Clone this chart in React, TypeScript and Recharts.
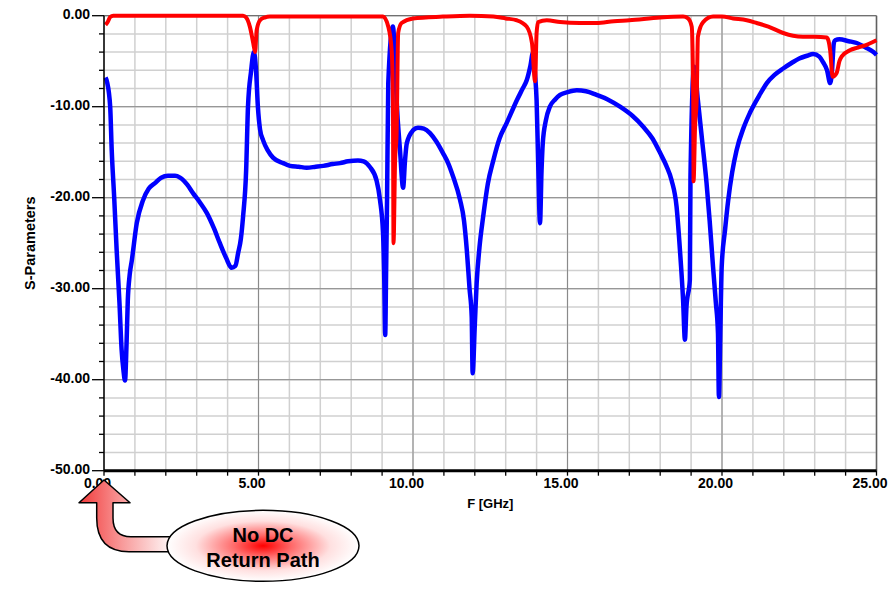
import React from "react";
import {
  LineChart,
  Line,
  XAxis,
  YAxis,
  CartesianGrid,
  ReferenceLine,
} from "recharts";

// S11 (blue)
const s11Freq = [
  0.05, 0.1, 0.2, 0.25, 0.33, 0.41, 0.5, 0.57, 0.63, 0.68, 0.73, 0.77, 0.83,
  0.9, 1.06, 1.26, 1.45, 1.65, 1.85, 2.07, 2.3, 2.46, 2.7, 2.88, 3.1, 3.33,
  3.55, 3.75, 3.95, 4.13, 4.25, 4.34, 4.43, 4.5, 4.6, 4.66, 4.76, 4.85, 4.92,
  4.98, 5.05, 5.15, 5.3, 5.47, 5.8, 6.02, 6.3, 6.56, 6.85, 7.1, 7.4, 7.64,
  7.9, 8.22, 8.4, 8.6, 8.82, 8.93, 9.03, 9.07, 9.1, 9.13, 9.16, 9.2, 9.35,
  9.42, 9.47, 9.58, 9.68, 9.74, 9.8, 10.0, 10.16, 10.35, 10.55, 10.75, 10.97,
  11.15, 11.3, 11.52, 11.65, 11.74, 11.83, 11.9, 11.93, 12.0, 12.06, 12.15,
  12.27, 12.42, 12.6, 12.8, 13.03, 13.2, 13.36, 13.55, 13.68, 13.8, 13.88,
  13.95, 14.0, 14.05, 14.11, 14.16, 14.2, 14.3, 14.43, 14.6, 14.76, 15.0,
  15.3, 15.6, 15.94, 16.3, 16.7, 17.1, 17.45, 17.75, 18.0, 18.2, 18.37,
  18.53, 18.64, 18.74, 18.8, 18.85, 18.96, 18.98, 19.1, 19.22, 19.35, 19.5,
  19.6, 19.71, 19.8, 19.87, 19.9, 19.95, 19.99, 20.1, 20.2, 20.33, 20.47,
  20.7, 20.9, 21.2, 21.45, 21.7, 21.98, 22.25, 22.5, 22.75, 22.95, 23.15,
  23.27, 23.4, 23.5, 23.55, 23.62, 23.66, 23.8, 24.1, 24.36, 24.65, 24.9, 25.0,
];
const s11Db = [
  -6.8, -7.3, -10.0, -14.8, -20.0, -25.8, -31.5, -36.7, -39.0, -40.1, -36.0,
  -31.3, -28.5, -26.9, -22.8, -20.3, -19.0, -18.4, -17.8, -17.6, -17.6, -17.8,
  -18.6, -19.5, -20.5, -21.7, -23.3, -25.0, -26.6, -27.7, -27.5, -26.1, -24.5,
  -22.1, -17.0, -10.0, -6.1, -4.0, -6.0, -10.0, -12.5, -13.7, -14.8, -15.6,
  -16.2, -16.5, -16.6, -16.7, -16.6, -16.5, -16.3, -16.2, -16.0, -15.9, -16.0,
  -16.6, -18.1, -20.2, -23.9, -29.0, -35.1, -28.0, -20.3, -7.4, -1.2, -5.0,
  -9.3, -14.8, -18.9, -16.0, -14.0, -12.6, -12.3, -12.4, -12.9, -13.8, -15.1,
  -16.3, -17.7, -20.2, -22.5, -25.7, -30.0, -33.1, -39.3, -34.0, -29.4, -25.5,
  -22.1, -18.5, -15.9, -13.5, -11.8, -10.5, -9.3, -8.0, -7.1, -5.5, -4.1,
  -6.5, -9.3, -16.0, -22.8, -17.0, -14.0, -11.5, -10.0, -9.2, -8.7, -8.4,
  -8.2, -8.3, -8.7, -9.2, -10.0, -11.0, -12.2, -13.5, -15.1, -16.5, -18.1,
  -21.0, -25.8, -31.2, -35.6, -32.0, -29.0, -17.7, -5.6, -9.3, -13.5, -18.4,
  -22.5, -27.6, -31.5, -34.9, -41.9, -34.0, -27.6, -23.5, -20.3, -17.2, -14.8,
  -12.3, -10.7, -8.8, -7.4, -6.5, -5.8, -5.2, -4.7, -4.4, -4.2, -4.5, -5.1,
  -6.0, -7.4, -6.5, -3.0, -2.7, -2.6, -2.8, -3.0, -3.5, -4.0, -4.3,
];

// S21 (red)
const s21Freq = [
  0.05, 0.12, 0.2, 0.3, 1, 2, 3, 4, 4.5, 4.6, 4.72, 4.83, 4.89, 4.94, 5.05,
  5.2, 5.37, 6.5, 8, 9.03, 9.2, 9.31, 9.35, 9.37, 9.42, 9.47, 9.52, 9.63,
  10.0, 10.97, 11.84, 12.6, 13.0, 13.36, 13.68, 13.85, 13.95, 14.0, 14.05,
  14.33, 14.76, 15.4, 15.94, 16.5, 17.0, 18.0, 18.74, 18.9, 19.02, 19.07,
  19.08, 19.13, 19.18, 19.22, 19.39, 19.71, 20.0, 20.36, 20.8, 21.12, 21.5,
  21.98, 22.3, 22.62, 23.0, 23.39, 23.45, 23.5, 23.58, 23.71, 23.8, 23.87,
  24.14, 24.4, 24.68, 25.0,
];
const s21Db = [
  -1.0, -0.7, -0.15, 0, 0, 0, 0, 0, 0, -0.2, -1.2, -3.0, -4.0, -1.6, -0.5,
  -0.2, -0.1, -0.1, -0.1, -0.1, -1.2, -3.8, -9.3, -25.0, -16.0, -12.9, -1.9,
  -0.8, -0.3, -0.1, 0.0, -0.1, -0.3, -0.5, -1.2, -3.0, -7.2, -1.9, -0.7,
  -0.5, -0.7, -0.8, -0.8, -0.6, -0.5, -0.2, -0.1, -0.3, -1.2, -9.3, -18.2,
  -12.0, -9.3, -2.3, -0.7, -0.1, -0.1, -0.3, -0.5, -0.8, -1.2, -1.9, -2.2,
  -2.3, -2.3, -2.4, -2.8, -3.8, -6.7, -6.3, -5.0, -4.5, -3.8, -3.5, -3.2,
  -2.7,
];

const xTicks = [
  0, 1, 2, 3, 4, 5, 6, 7, 8, 9, 10, 11, 12, 13, 14, 15, 16, 17, 18, 19, 20,
  21, 22, 23, 24, 25,
];
const yTicks = [
  -50, -48, -46, -44, -42, -40, -38, -36, -34, -32, -30, -28, -26, -24, -22,
  -20, -18, -16, -14, -12, -10, -8, -6, -4, -2, 0,
];
const xMajor = [5, 10, 15, 20];
const yMajor = [-10, -20, -30, -40];

const s11 = s11Freq.map((f, i) => ({ f, db: s11Db[i] }));
const s21 = s21Freq.map((f, i) => ({ f, db: s21Db[i] }));

const font = "'Liberation Sans', Arial, sans-serif";

const YTick = (props: any) => {
  const { x, y, payload } = props;
  const major = payload.value % 10 === 0;
  return (
    <g>
      <line x1={x - (major ? 12 : 5)} x2={x} y1={y} y2={y} stroke="#000" strokeWidth={1.3} />
      {major && (
        <text
          x={x - 14}
          y={y + 3}
          textAnchor="end"
          fontFamily={font}
          fontWeight="bold"
          fontSize={14}
          fill="#000"
        >
          {payload.value.toFixed(2)}
        </text>
      )}
    </g>
  );
};

const XTick = (props: any) => {
  const { x, y, payload } = props;
  const major = payload.value % 5 === 0;
  return (
    <g>
      <line x1={x} x2={x} y1={y} y2={y + 5} stroke="#000" strokeWidth={1.3} />
      {major && (
        <text
          x={x - 6.5}
          y={y + 17.5}
          textAnchor="middle"
          fontFamily={font}
          fontWeight="bold"
          fontSize={14}
          fill="#000"
        >
          {payload.value.toFixed(2)}
        </text>
      )}
    </g>
  );
};

function Callout() {
  return (
    <svg
      width={888}
      height={589}
      style={{ position: "absolute", left: 0, top: 0, pointerEvents: "none" }}
    >
      <defs>
        <linearGradient id="arrowFill" x1="0" y1="0" x2="1" y2="0">
          <stop offset="0" stopColor="#f23a3a" />
          <stop offset="0.45" stopColor="#f89a9a" />
          <stop offset="1" stopColor="#ffffff" />
        </linearGradient>
        <radialGradient id="bubbleFill" cx="0.5" cy="0.5" r="0.5">
          <stop offset="0" stopColor="#ff0000" />
          <stop offset="0.3" stopColor="#ff6a6a" />
          <stop offset="0.7" stopColor="#ffe0e0" />
          <stop offset="1" stopColor="#ffffff" />
        </radialGradient>
      </defs>
      <path
        d="M 79 502.7 L 104 480 L 130 502.7 L 113 502.7 L 113 518 Q 113 536.7 131 536.7 L 175 536.7 L 175 551.7 L 129 551.7 Q 96.7 551.7 96.7 518 L 96.7 502.7 Z"
        fill="url(#arrowFill)"
        stroke="#000"
        strokeWidth={1.5}
        strokeLinejoin="round"
      />
      <ellipse
        cx={263}
        cy={545.8}
        rx={96}
        ry={35.5}
        fill="url(#bubbleFill)"
        stroke="#000"
        strokeWidth={1.5}
      />
      <text x={263} y={541.5} textAnchor="middle" fontFamily={font} fontWeight="bold" fontSize={20} fill="#000">
        No DC
      </text>
      <text x={263} y={566.5} textAnchor="middle" fontFamily={font} fontWeight="bold" fontSize={20} fill="#000">
        Return Path
      </text>
    </svg>
  );
}

export default function App() {
  return (
    <div
      style={{
        position: "absolute",
        left: 0,
        top: 0,
        width: 888,
        height: 589,
        background: "#fff",
      }}
    >
      <LineChart
        width={888}
        height={589}
        margin={{ top: 15.7, right: 11.5, left: 0, bottom: 78.3 }}
      >
        <CartesianGrid stroke="#d0d0d0" strokeWidth={1.5} />

        <XAxis
          type="number"
          dataKey="f"
          domain={[0, 25]}
          ticks={xTicks}
          interval={0}
          height={40}
          tickSize={0}
          tickMargin={0}
          tick={<XTick />}
          axisLine={{ stroke: "#000", strokeWidth: 3 }}
          tickLine={false}
          label={{
            value: "F [GHz]",
            position: "insideBottom",
            offset: 3,
            style: { fontFamily: font, fontWeight: "bold", fontSize: 13, fill: "#000" },
          }}
        />

        <YAxis
          type="number"
          domain={[-50, 0]}
          ticks={yTicks}
          interval={0}
          width={104}
          tickSize={0}
          tickMargin={0}
          tick={<YTick />}
          axisLine={{ stroke: "#000", strokeWidth: 1.5 }}
          tickLine={false}
          label={{
            value: "S-Parameters",
            angle: -90,
            position: "insideLeft",
            offset: 30,
            style: {
              fontFamily: font,
              fontWeight: "bold",
              fontSize: 14.5,
              fill: "#000",
              textAnchor: "middle",
            },
          }}
        />

        {xMajor.map((v) => (
          <ReferenceLine key={"x" + v} x={v} stroke="#8a8a8a" strokeWidth={1} />
        ))}
        {yMajor.map((v) => (
          <ReferenceLine key={"y" + v} y={v} stroke="#8a8a8a" strokeWidth={1} />
        ))}
        <ReferenceLine y={0} stroke="#707070" strokeWidth={1.2} />
        <ReferenceLine x={25} stroke="#606060" strokeWidth={1.5} />

        <Line
          data={s11}
          dataKey="db"
          type="monotone"
          stroke="#0000ff"
          strokeWidth={4.5}
          strokeLinejoin="round"
          dot={false}
          isAnimationActive={false}
        />
        <Line
          data={s21}
          dataKey="db"
          type="monotone"
          stroke="#ff0000"
          strokeWidth={4}
          strokeLinejoin="round"
          dot={false}
          isAnimationActive={false}
        />
      </LineChart>
      <Callout />
    </div>
  );
}
